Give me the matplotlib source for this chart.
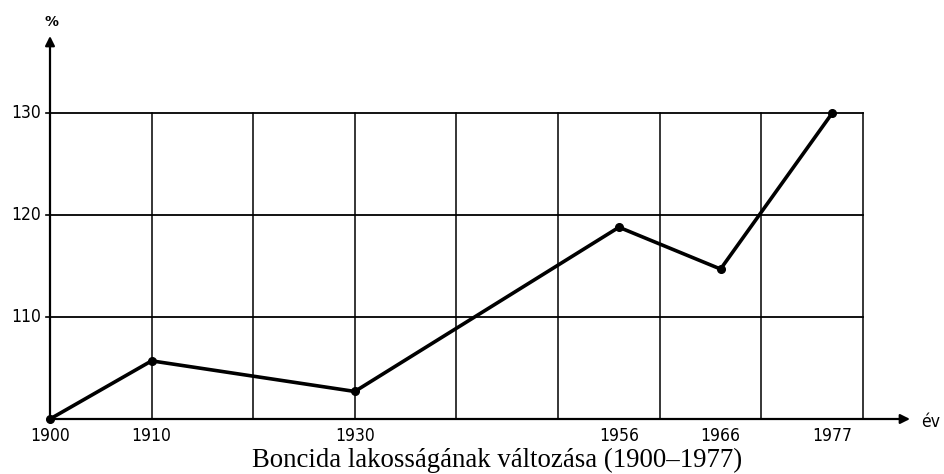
import matplotlib
matplotlib.use('Agg')
import matplotlib.pyplot as plt

# data: population change of Boncida, 1900 = 100 %
years = [1900, 1910, 1930, 1956, 1966, 1977]
percent = [100.0, 105.7, 102.7, 118.8, 114.7, 130.0]
y_labels = [110, 120, 130]
caption = 'Boncida lakosságának változása (1900–1977)'

fig = plt.figure(figsize=(9.45, 4.74), dpi=100)
W, H = 945, 474
# axes placed in pixels: x 1900 -> 50px, y 100 -> 419px
left, right, bottom, top = 50, 910, 419, 36
ax = fig.add_axes([left / W, 1 - bottom / H, (right - left) / W, (bottom - top) / H])
px_per_year = 10.16
px_per_pct = 10.2
ax.set_xlim(1900, 1900 + (right - left) / px_per_year)
ax.set_ylim(100, 100 + (bottom - top) / px_per_pct)
ax.axis('off')

# grid box 1900-1980 x 100-130
for gx in range(1910, 1990, 10):
    ax.plot([gx, gx], [100, 130], color='black', lw=1.1, zorder=1)
for gy in y_labels:
    ax.plot([1900, 1980], [gy, gy], color='black', lw=1.3, zorder=1)

# axes with arrows
xmax = ax.get_xlim()[1]
ymax = ax.get_ylim()[1]
ax.annotate('', xy=(xmax, 100), xytext=(1900, 100),
            arrowprops=dict(arrowstyle='-|>', color='black', lw=1.6,
                            mutation_scale=14, shrinkA=0, shrinkB=0))
ax.annotate('', xy=(1900, ymax), xytext=(1900, 100),
            arrowprops=dict(arrowstyle='-|>', color='black', lw=1.6,
                            mutation_scale=14, shrinkA=0, shrinkB=0))

# data line
ax.plot(years, percent, color='black', lw=2.6, marker='o', markersize=5.5,
        solid_joinstyle='round', zorder=3, clip_on=False)

tick_font = dict(family='DejaVu Sans', stretch='condensed', fontsize=12.5)
for yr in years:
    ax.text(yr, 100 - 0.8, str(yr), ha='center', va='top', **tick_font)
for yl in y_labels:
    ax.text(1900 - 0.9, yl, str(yl), ha='right', va='center', **tick_font)
    ax.plot([1900 - 0.35, 1900], [yl, yl], color='black', lw=1.2, clip_on=False)

fig.text(921 / W, 1 - 422 / H, 'év', ha='left', va='center', **tick_font)
fig.text(52 / W, 1 - 22 / H, '%', ha='center', va='center', fontsize=10,
         family='DejaVu Sans', weight='bold')

fig.text(497 / W, 1 - 460 / H, caption, ha='center', va='center',
         family='Liberation Serif', fontsize=19.3)

fig.savefig('out.png', dpi=100)
